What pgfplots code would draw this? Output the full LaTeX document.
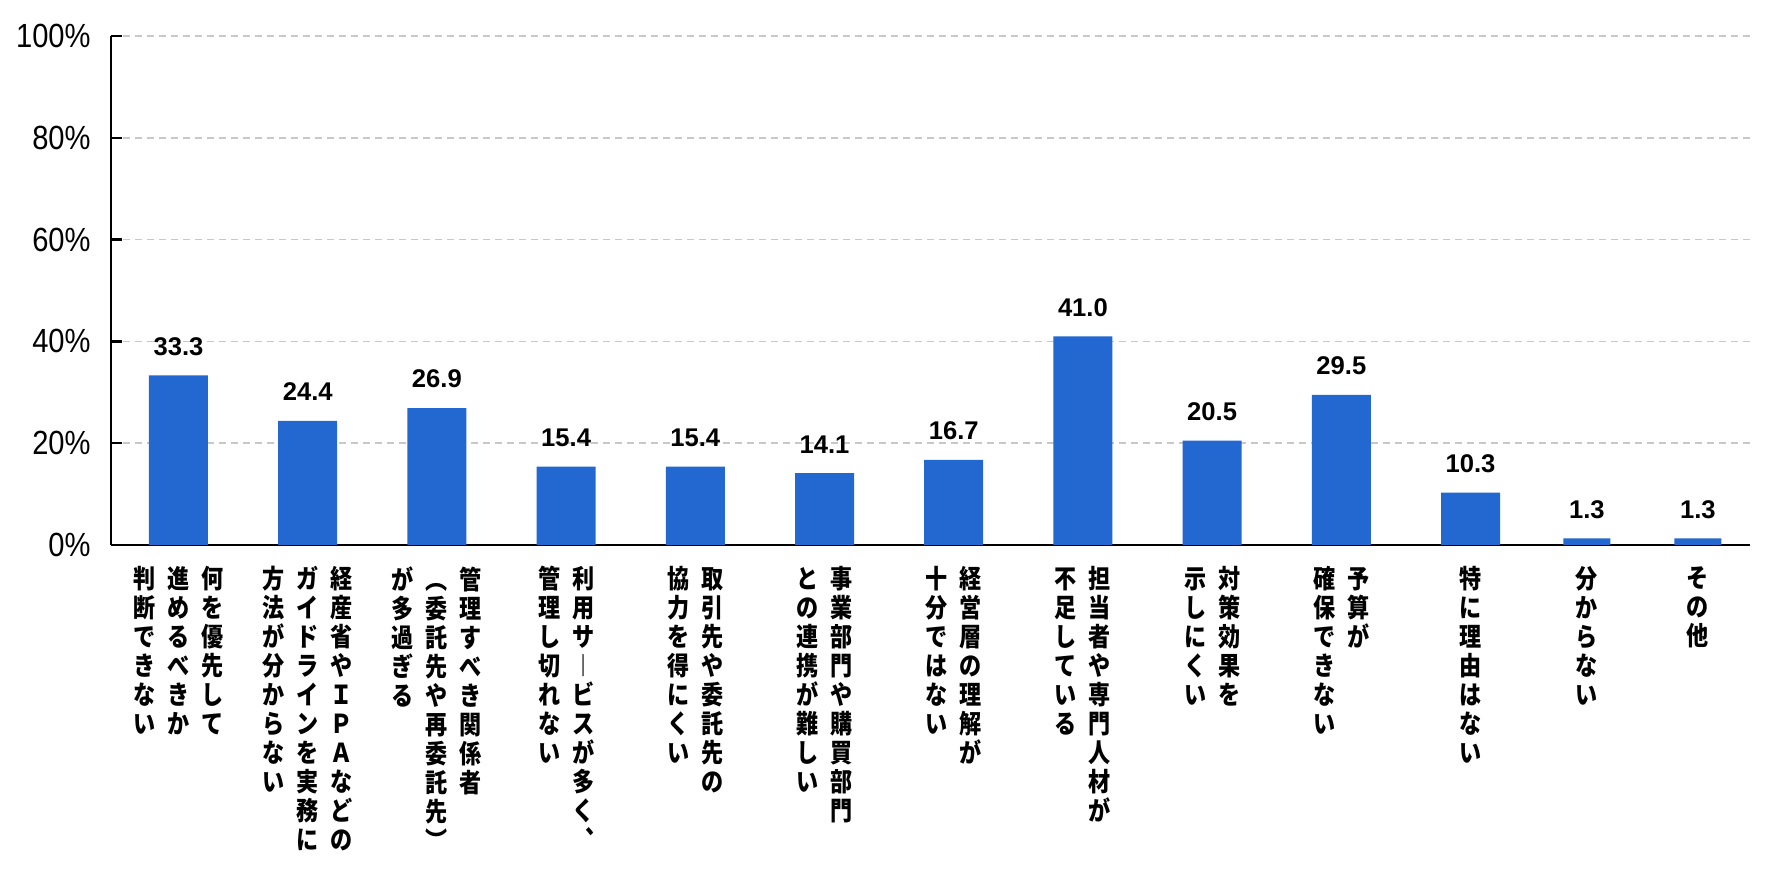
\documentclass[border=0pt]{standalone}
\usepackage{fontspec}
\usepackage{graphicx}
\usepackage{pgfplots}
\usepackage{pgfplotstable}
\pgfplotsset{compat=1.18}
\setmainfont{Liberation Sans}
\newfontfamily\jp{Noto Sans CJK JP}
\definecolor{barblue}{RGB}{35,103,208}
\definecolor{gridgray}{RGB}{200,200,200}
\makeatletter
\def\vc@loop#1#2\@nil{\hbox to 20pt{\hss#1\hss}\ifx\relax#2\relax\else\vc@loop#2\@nil\fi}
\newcommand{\vcol}[1]{\vtop{\baselineskip=14.5pt\lineskiplimit=-100pt\lineskip=0pt\vc@loop#1\@nil}}
\makeatother
\newcommand{\vset}[1]{\scalebox{0.85}[1]{\jp\bfseries\fontsize{13pt}{14.5pt}\selectfont\hbox{#1}}}
\newcommand{\vlabI}[1]{\vset{\vcol{#1}}}
\newcommand{\vlabII}[2]{\vset{\vcol{#2}\vcol{#1}}}
\newcommand{\vlabIII}[3]{\vset{\vcol{#3}\vcol{#2}\vcol{#1}}}
\newcommand{\yl}[1]{\scalebox{0.87}[1]{#1}}

\pgfplotstableread{
x y lab
0 33.3 33.3
1 24.4 24.4
2 26.9 26.9
3 15.4 15.4
4 15.4 15.4
5 14.1 14.1
6 16.7 16.7
7 41.0 41.0
8 20.5 20.5
9 29.5 29.5
10 10.3 10.3
}\dataA
\pgfplotstableread{
x y lab
10.90 1.3 1.3
11.76 1.3 1.3
}\dataB

\begin{document}
\begin{tikzpicture}
\useasboundingbox (-55.5pt,-171pt) rectangle (831.5pt,272.5pt);
\begin{axis}[
  at={(0pt,0pt)}, anchor=south west,
  scale only axis, width=819.5pt, height=254.5pt,
  xmin=-0.5224, xmax=12.163, ymin=0, ymax=100,
  axis x line=bottom, axis y line=left,
  axis line style={-, line width=1.2pt, black},
  ybar, bar shift=0pt,
  ytick={0,20,40,60,80,100},
  yticklabels={\yl{0\%},\yl{20\%},\yl{40\%},\yl{60\%},\yl{80\%},\yl{100\%}},
  yticklabel style={anchor=east, inner sep=0pt, xshift=-10pt, font=\fontsize{16.75pt}{18pt}\selectfont},
  ymajorgrids, grid style={gridgray, dash pattern=on 3.5pt off 2.5pt, line width=0.75pt},
  ytick align=inside, major tick length=5.5pt,
  y tick style={black, line width=1.2pt},
  xtick={0,1,2,3,4,5,6,7,8,9,10,10.90,11.76},
  x tick style={draw=none},
  xticklabels={
    {\vlabIII{何を優先して}{進めるべきか}{判断できない}},
    {\vlabIII{経産省やＩＰＡなどの}{ガイドラインを実務に}{方法が分からない}},
    {\vlabIII{管理すべき関係者}{︵委託先や再委託先︶}{が多過ぎる}},
    {\vlabII{利用サ︱ビスが多く︑}{管理し切れない}},
    {\vlabII{取引先や委託先の}{協力を得にくい}},
    {\vlabII{事業部門や購買部門}{との連携が難しい}},
    {\vlabII{経営層の理解が}{十分ではない}},
    {\vlabII{担当者や専門人材が}{不足している}},
    {\vlabII{対策効果を}{示しにくい}},
    {\vlabII{予算が}{確保できない}},
    {\vlabI{特に理由はない}},
    {\vlabI{分からない}},
    {\vlabI{その他}}
  },
  xticklabel style={anchor=north, inner sep=0pt, yshift=-5pt},
  nodes near coords, point meta=explicit symbolic,
  every node near coord/.append style={font=\fontsize{12.8pt}{14pt}\selectfont\bfseries, anchor=south, inner sep=0pt, yshift=9.75pt},
  clip=false,
]
\addplot[fill=barblue, draw=none, bar width=29.5pt] table[x=x, y=y, meta=lab] {\dataA};
\addplot[fill=barblue, draw=none, bar width=23.5pt] table[x=x, y=y, meta=lab] {\dataB};
\end{axis}
\end{tikzpicture}
\end{document}
